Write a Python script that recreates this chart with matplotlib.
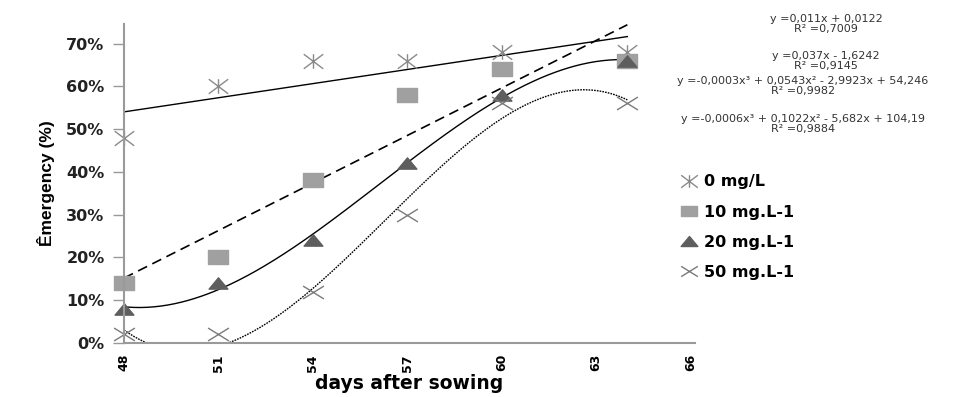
import numpy as np
import matplotlib.pyplot as plt
from matplotlib.path import Path
from matplotlib.lines import Line2D

# days after sowing and emergence (fraction) per concentration
days = [48, 51, 54, 57, 60, 64]
em_0 = [0.48, 0.60, 0.66, 0.66, 0.68, 0.68]
em_10 = [0.14, 0.20, 0.38, 0.58, 0.64, 0.66]
em_20 = [0.08, 0.14, 0.24, 0.42, 0.58, 0.66]
em_50 = [0.02, 0.02, 0.12, 0.30, 0.56, 0.56]
labels = ["0 mg/L", "10 mg.L-1", "20 mg.L-1", "50 mg.L-1"]

# linear trendline coefficients as printed on the chart
lin_0 = [0.011, 0.0122]
lin_10 = [0.037, -1.6242]

eq_texts = [
    "y =0,011x + 0,0122\nR² =0,7009",
    "y =0,037x - 1,6242\nR² =0,9145",
    "y =-0,0003x³ + 0,0543x² - 2,9923x + 54,246\nR² =0,9982",
    "y =-0,0006x³ + 0,1022x² - 5,682x + 104,19\nR² =0,9884",
]

xticks = [48, 51, 54, 57, 60, 63, 66]
yticks = [0, 0.1, 0.2, 0.3, 0.4, 0.5, 0.6, 0.7]

# marker shapes (Excel style, a bit wider than tall)
star = Path([(0, -0.75), (0, 0.75), (-1, -0.75), (1, 0.75), (-1, 0.75), (1, -0.75)],
            [Path.MOVETO, Path.LINETO] * 3)
cross = Path([(-1, -0.62), (1, 0.62), (-1, 0.62), (1, -0.62)],
             [Path.MOVETO, Path.LINETO] * 2)
rect = Path([(-1, -0.65), (1, -0.65), (1, 0.65), (-1, 0.65), (-1, -0.65)],
            [Path.MOVETO, Path.LINETO, Path.LINETO, Path.LINETO, Path.CLOSEPOLY])
tri = Path([(-1, -0.6), (1, -0.6), (0, 0.6), (-1, -0.6)],
           [Path.MOVETO, Path.LINETO, Path.LINETO, Path.CLOSEPOLY])

fig = plt.figure(figsize=(9.56, 3.97), dpi=100)
ax = fig.add_axes([0.1297, 0.136, 0.5973, 0.804])

xs = np.linspace(days[0], days[-1], 300)
ax.plot(xs, np.polyval(lin_0, xs), color="black", lw=1.0)
ax.plot(xs, np.polyval(lin_10, xs), color="black", lw=1.2, ls=(0, (6, 3.5)))
ax.plot(xs, np.polyval(np.polyfit(days, em_20, 3), xs), color="black", lw=1.0)
ax.plot(xs, np.polyval(np.polyfit(days, em_50, 3), xs), color="black", lw=1.0, ls=(0, (1.2, 0.8)))

ax.plot(days, em_0, ls="none", marker=star, ms=14, mec="#8a8a8a", mfc="none", mew=1.0, clip_on=False)
ax.plot(days, em_10, ls="none", marker=rect, ms=14.5, mec="#a0a0a0", mfc="#a0a0a0", clip_on=False)
ax.plot(days, em_20, ls="none", marker=tri, ms=13.5, mec="#5e5e5e", mfc="#5e5e5e", clip_on=False)
ax.plot(days, em_50, ls="none", marker=cross, ms=15, mec="#7a7a7a", mfc="none", mew=1.0, clip_on=False)

ax.set_xlim(48, 66.15)
ax.set_ylim(0, 0.746)
ax.set_xticks(xticks)
ax.set_xticklabels([str(d) for d in xticks], rotation=90, fontsize=9, fontweight="bold")
ax.set_yticks(yticks)
ax.set_yticklabels([f"{int(round(v * 100))}%" for v in yticks], fontsize=11.5, fontweight="bold",
                   color="#222222")
ax.tick_params(axis="y", length=8, width=1, color="#999999", pad=6)
ax.tick_params(axis="x", length=0, pad=8)
for s in ["top", "right"]:
    ax.spines[s].set_visible(False)
for s in ["left", "bottom"]:
    ax.spines[s].set_color("#9a9a9a")
    ax.spines[s].set_linewidth(1.5)

ax.set_xlabel("days after sowing", fontsize=13.5, fontweight="bold", labelpad=2)
ax.set_ylabel("Êmergency (%)", fontsize=12.5, fontweight="bold",
              family=["Liberation Sans Narrow", "Liberation Sans"], labelpad=8)

# trendline equations
eq_pos = [(826, 24), (826, 61), (803, 86), (803, 124)]
for (px, py), t in zip(eq_pos, eq_texts):
    fig.text(px / 956, 1 - py / 397, t, fontsize=8, ha="center", va="center",
             color="#333333", linespacing=1.0)

handles = [
    Line2D([], [], ls="none", marker=star, ms=12, mec="#8a8a8a", mfc="none", mew=1.0),
    Line2D([], [], ls="none", marker=rect, ms=12, mec="#a0a0a0", mfc="#a0a0a0"),
    Line2D([], [], ls="none", marker=tri, ms=12, mec="#5e5e5e", mfc="#5e5e5e"),
    Line2D([], [], ls="none", marker=cross, ms=12, mec="#7a7a7a", mfc="none", mew=1.0),
]
leg = fig.legend(handles, labels, loc="upper left", bbox_to_anchor=(667 / 956, 1 - 160 / 397),
                 frameon=False, handlelength=1.0, handletextpad=0.4, labelspacing=0.95,
                 prop={"size": 11.5, "weight": "bold"})

fig.savefig("out.png", dpi=100)
